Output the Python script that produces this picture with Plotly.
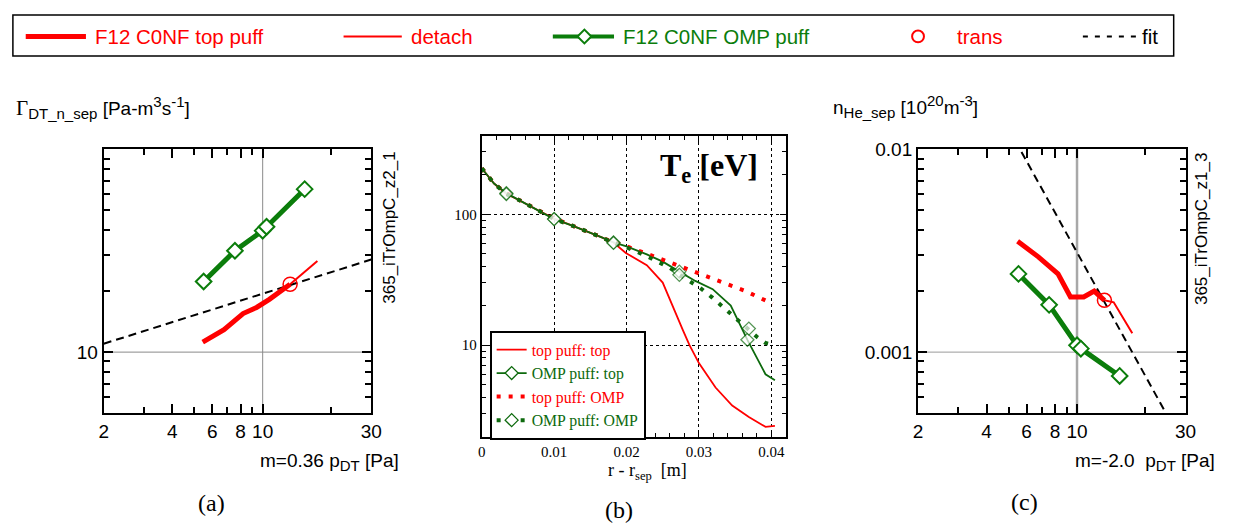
import numpy as np
import plotly.graph_objects as go

W, H = 1237, 525

# ---------------- data: panel (a)  Gamma_DT_n_sep vs p_DT ----------------
a_top_x = [5.45, 6.76, 8.2, 9.4, 10.7, 11.9, 13.2]
a_top_y = [11.2, 12.9, 15.5, 16.6, 18.2, 19.9, 21.6]
a_det_x = [13.2, 14.5, 17.4]
a_det_y = [21.6, 23.6, 28.1]
a_omp_x = [5.5, 7.55, 10.0, 10.4, 15.3]
a_omp_y = [22.3, 31.6, 39.7, 41.5, 63.6]
a_trans_x = [13.2]
a_trans_y = [21.6]
a_fit_x = [2.0, 30.0]
a_fit_y = [11.0, 28.6]

# ---------------- data: panel (c)  n_He_sep vs p_DT ----------------
c_top_x = [5.48, 6.76, 8.25, 9.36, 10.7, 11.9, 13.2]
c_top_y = [0.00352, 0.00295, 0.00243, 0.00187, 0.00187, 0.0020, 0.0018]
c_det_x = [13.2, 14.5, 17.5]
c_det_y = [0.0018, 0.00176, 0.00124]
c_omp_x = [5.53, 7.54, 10.0, 10.4, 15.4]
c_omp_y = [0.00243, 0.00171, 0.00108, 0.00104, 0.000763]
c_trans_x = [13.2]
c_trans_y = [0.0018]
c_fit_x = [5.7, 24.6]
c_fit_y = [0.0097, 0.0005]

# ---------------- data: panel (b)  Te profiles ----------------
b_tt_x = [0, 0.0017, 0.0034, 0.005, 0.0073, 0.01, 0.0125, 0.0141, 0.0165, 0.0182,
          0.0199, 0.0228, 0.025, 0.0278, 0.0287, 0.03, 0.0323, 0.0346, 0.0369, 0.0392, 0.0405]
b_tt_y = [225, 172, 143, 130, 111, 93, 82, 76, 67, 61,
          50.7, 40.9, 30.1, 13.0, 10.0, 7.3, 4.75, 3.46, 2.83, 2.38, 2.42]

b_ot_x = [0, 0.0017, 0.0034, 0.005, 0.0073, 0.01, 0.0125, 0.0141, 0.0165, 0.0182,
          0.02, 0.0228, 0.025, 0.0273, 0.0295, 0.0319, 0.0344, 0.0367, 0.0392, 0.0405]
b_ot_y = [225, 172, 145, 130, 111, 92, 82, 76, 67, 61,
          57, 49.5, 43.5, 36.5, 31, 26.8, 20.1, 11.0, 6.0, 5.4]
b_ot_mark_x = [0.0034, 0.01, 0.0182, 0.0273, 0.0367]

b_to_x = [0, 0.0017, 0.0034, 0.005, 0.0073, 0.01, 0.0125, 0.0141, 0.0165, 0.0182,
          0.02, 0.0228, 0.025, 0.0264, 0.0292, 0.0328, 0.0364, 0.0402]
b_to_y = [225, 172, 145, 130, 111, 93, 82, 76, 67, 61,
          57, 50, 45, 42, 37.2, 31, 26, 20.7]

b_oo_x = [0, 0.0017, 0.0034, 0.005, 0.0073, 0.01, 0.0125, 0.0141, 0.0165, 0.0182,
          0.02, 0.0228, 0.026, 0.0273, 0.0301, 0.0319, 0.0344, 0.0369, 0.038, 0.0392, 0.0405]
b_oo_y = [225, 172, 143, 130, 111, 92, 82, 76, 67, 60.5,
          56, 48, 39, 34.5, 27.6, 23, 17.4, 13.4, 11.6, 10.4, 10.0]
b_oo_mark_x = [0.0034, 0.01, 0.0182, 0.0273, 0.0369]

# tick labels
p_ticks = [2, 4, 6, 8, 10, 30]
p_minor = [3, 5, 7, 9, 20]
b_xticks = [0, 0.01, 0.02, 0.03, 0.04]
b_xlabels = ['0', '0.01', '0.02', '0.03', '0.04']
b_yticks = [10, 100]

RED = '#ff0000'
GREEN = '#0b7d0b'
GREEN_B = '#0d6a0d'
SANS = 'Liberation Sans'
SERIF = 'Liberation Serif'


def px(x):
    return x / W


def py(y):
    return 1 - y / H


fig = go.Figure()


def add_pdt_panel(xa, ya, top_x, top_y, det_x, det_y, omp_x, omp_y, tr_x, tr_y, fx, fy):
    fig.add_trace(go.Scatter(x=fx, y=fy, mode='lines', xaxis=xa, yaxis=ya, showlegend=False,
                             line=dict(color='black', width=2, dash='8px,5px')))
    fig.add_trace(go.Scatter(x=top_x, y=top_y, mode='lines', xaxis=xa, yaxis=ya, showlegend=False,
                             line=dict(color=RED, width=5)))
    fig.add_trace(go.Scatter(x=det_x, y=det_y, mode='lines', xaxis=xa, yaxis=ya, showlegend=False,
                             line=dict(color=RED, width=2)))
    fig.add_trace(go.Scatter(x=omp_x, y=omp_y, mode='lines+markers', xaxis=xa, yaxis=ya,
                             showlegend=False, line=dict(color=GREEN, width=5),
                             marker=dict(symbol='diamond', size=12, color='white',
                                         line=dict(color=GREEN, width=2))))
    fig.add_trace(go.Scatter(x=tr_x, y=tr_y, mode='markers', xaxis=xa, yaxis=ya, showlegend=False,
                             marker=dict(symbol='circle-open', size=14, color=RED,
                                         line=dict(color=RED, width=1.5))))


add_pdt_panel('x', 'y', a_top_x, a_top_y, a_det_x, a_det_y, a_omp_x, a_omp_y,
              a_trans_x, a_trans_y, a_fit_x, a_fit_y)
add_pdt_panel('x3', 'y3', c_top_x, c_top_y, c_det_x, c_det_y, c_omp_x, c_omp_y,
              c_trans_x, c_trans_y, c_fit_x, c_fit_y)


def marker_sizes(xs, marks, size):
    return [size if any(abs(v - m) < 1e-9 for m in marks) else 0 for v in xs]


DOTS = '4px,8px'
green_marker = dict(symbol='diamond', color='white', line=dict(color=GREEN_B, width=1.3))

# panel (b) curves
fig.add_trace(go.Scatter(x=b_tt_x, y=b_tt_y, mode='lines', xaxis='x2', yaxis='y2',
                         name='<span style="color:#ff0000">top puff: top</span>',
                         line=dict(color=RED, width=1.8)))
fig.add_trace(go.Scatter(x=b_ot_x, y=b_ot_y, mode='lines+markers', xaxis='x2', yaxis='y2',
                         showlegend=False, line=dict(color=GREEN_B, width=1.8),
                         marker=dict(green_marker, size=marker_sizes(b_ot_x, b_ot_mark_x, 10))))
# legend entry for the curve above (no data of its own)
fig.add_trace(go.Scatter(x=[None], y=[None], mode='lines+markers', xaxis='x2', yaxis='y2',
                         name='<span style="color:#0d6a0d">OMP puff: top</span>',
                         line=dict(color=GREEN_B, width=1.8),
                         marker=dict(green_marker, size=10)))
fig.add_trace(go.Scatter(x=b_to_x, y=b_to_y, mode='lines', xaxis='x2', yaxis='y2',
                         name='<span style="color:#ff0000">top puff: OMP</span>',
                         line=dict(color=RED, width=4, dash=DOTS)))
fig.add_trace(go.Scatter(x=b_oo_x, y=b_oo_y, mode='lines+markers', xaxis='x2', yaxis='y2',
                         showlegend=False, line=dict(color=GREEN_B, width=4, dash=DOTS),
                         marker=dict(green_marker, size=marker_sizes(b_oo_x, b_oo_mark_x, 10))))
fig.add_trace(go.Scatter(x=[None], y=[None], mode='lines+markers', xaxis='x2', yaxis='y2',
                         name='<span style="color:#0d6a0d">OMP puff: OMP</span>',
                         line=dict(color=GREEN_B, width=4, dash=DOTS),
                         marker=dict(green_marker, size=10)))

# ---------------- axes ----------------
frame = dict(showline=True, linecolor='black', linewidth=2, mirror='allticks',
             ticks='inside', tickcolor='black', zeroline=False)
TICKF = dict(family=SANS, size=19, color='black')


def log_x(domain, anchor):
    return dict(frame, type='log', range=[np.log10(2), np.log10(30)], domain=domain, anchor=anchor,
                tickvals=p_ticks, ticktext=[str(t) for t in p_ticks], ticklen=9, tickwidth=1.5,
                tickfont=TICKF, showgrid=False,
                minor=dict(tickvals=p_minor, ticks='inside', ticklen=6, tickwidth=1.5,
                           tickcolor='black', showgrid=False))


a_minor_y = [5, 6, 7, 8, 9, 20, 30, 40, 50, 60, 70, 80, 90]
c_minor_y = [0.0005, 0.0006, 0.0007, 0.0008, 0.0009, 0.002, 0.003, 0.004, 0.005,
             0.006, 0.007, 0.008, 0.009]
b_minor_y = [2, 3, 4, 5, 6, 7, 8, 9, 20, 30, 40, 50, 60, 70, 80, 90, 200, 300, 400]

fig.update_layout(
    width=W, height=H, margin=dict(l=0, r=0, t=0, b=0),
    paper_bgcolor='white', plot_bgcolor='white',
    xaxis=log_x([px(100), px(371)], 'y'),
    yaxis=dict(frame, type='log', range=[np.log10(5), 2], domain=[py(411), py(142)], anchor='x',
               tickvals=[10], ticktext=['10'], ticklen=9, tickwidth=1.5,
               tickfont=TICKF, showgrid=False,
               minor=dict(tickvals=a_minor_y, ticks='inside', ticklen=6, tickwidth=1.5,
                          tickcolor='black', showgrid=False)),
    xaxis3=log_x([px(925), px(1196)], 'y3'),
    yaxis3=dict(frame, type='log', range=[np.log10(0.0005), -2], domain=[py(411), py(142)],
                anchor='x3', tickvals=[0.001, 0.01], ticktext=['0.001', '0.01'], ticklen=9,
                tickwidth=1.5, tickfont=TICKF, showgrid=False,
                minor=dict(tickvals=c_minor_y, ticks='inside', ticklen=6, tickwidth=1.5,
                           tickcolor='black', showgrid=False)),
    xaxis2=dict(frame, range=[0, 0.042], domain=[px(483), px(791)], anchor='y2',
                tickvals=b_xticks, ticktext=b_xlabels,
                ticklen=6, tickwidth=1, tickfont=dict(family=SERIF, size=15, color='black'),
                showgrid=True, gridcolor='black', griddash='dot', gridwidth=1,
                minor=dict(dtick=0.002, ticks='inside', ticklen=4, tickwidth=1,
                           tickcolor='black', showgrid=False)),
    yaxis2=dict(frame, type='log', range=[np.log10(2), np.log10(400)], domain=[py(435), py(128)],
                anchor='x2', tickvals=b_yticks, ticktext=['10', '100'], ticklen=6, tickwidth=1,
                tickfont=dict(family=SERIF, size=15, color='black'),
                showgrid=True, gridcolor='black', griddash='dot', gridwidth=1,
                minor=dict(tickvals=b_minor_y, ticks='inside', ticklen=4, tickwidth=1,
                           tickcolor='black', showgrid=False)),
    legend=dict(x=px(491), y=py(327), xanchor='left', yanchor='top', bgcolor='white',
                bordercolor='black', borderwidth=2, tracegroupgap=0,
                font=dict(family=SERIF, size=15.8), itemwidth=30),
    showlegend=True,
)

# ---------------- reference lines (grid at single values) ----------------
shapes = [
    dict(type='line', xref='x', yref='y domain', x0=10, x1=10, y0=0, y1=1, layer='below',
         line=dict(color='#8a8a8a', width=1)),
    dict(type='line', xref='x domain', yref='y', x0=0, x1=1, y0=10, y1=10, layer='below',
         line=dict(color='#8a8a8a', width=1)),
    dict(type='line', xref='x3', yref='y3 domain', x0=10, x1=10, y0=0, y1=1, layer='below',
         line=dict(color='#a8a8a8', width=2.5)),
    dict(type='line', xref='x3 domain', yref='y3', x0=0, x1=1, y0=0.001, y1=0.001, layer='below',
         line=dict(color='#9a9a9a', width=1)),
]

# ---------------- top legend (manual) ----------------
ly = 27
shapes += [
    dict(type='rect', xref='paper', yref='paper', x0=px(8), x1=px(1184), y0=py(47), y1=py(5),
         line=dict(color='black', width=1.5)),
    dict(type='line', xref='paper', yref='paper', x0=px(21), x1=px(82), y0=py(ly), y1=py(ly),
         line=dict(color=RED, width=5)),
    dict(type='line', xref='paper', yref='paper', x0=px(343), x1=px(402), y0=py(ly), y1=py(ly),
         line=dict(color=RED, width=2)),
    dict(type='line', xref='paper', yref='paper', x0=px(555), x1=px(617), y0=py(ly), y1=py(ly),
         line=dict(color=GREEN, width=4)),
    dict(type='path', xref='paper', yref='paper',
         path=f'M{px(580)},{py(ly)} L{px(587)},{py(ly-7)} L{px(594)},{py(ly)} L{px(587)},{py(ly+7)} Z',
         fillcolor='white', line=dict(color=GREEN, width=2)),
    dict(type='circle', xref='paper', yref='paper', x0=px(919), x1=px(931), y0=py(ly+6),
         y1=py(ly-6), line=dict(color=RED, width=2)),
    dict(type='line', xref='paper', yref='paper', x0=px(1092), x1=px(1148), y0=py(ly), y1=py(ly),
         line=dict(color='black', width=2, dash='5px,7px')),
]
fig.update_layout(shapes=shapes)


def ann(text, x, y, size, family=SANS, color='black', xanchor='center', yanchor='middle',
        angle=0):
    return dict(text=text, x=px(x), y=py(y), xref='paper', yref='paper', showarrow=False,
                xanchor=xanchor, yanchor=yanchor, textangle=angle,
                font=dict(family=family, size=size, color=color))


def s15(t):
    return f'<span style="font-size:15px">{t}</span>'


LEG = 20.5
annotations = [
    ann('F12 C0NF top puff', 89, ly, LEG, color=RED, xanchor='left'),
    ann('detach', 409, ly, LEG, color=RED, xanchor='left'),
    ann('F12 C0NF OMP puff', 624, ly, LEG, color=GREEN, xanchor='left'),
    ann('trans', 962, ly, LEG, color=RED, xanchor='left'),
    ann('fit', 1150, ly, LEG, xanchor='left'),
    # panel (a)
    ann('<span style="font-family:Liberation Serif;font-size:21px">Γ</span><sub>' + s15('DT_n_sep')
        + '</sub> [Pa-m<sup>' + s15('3') + '</sup>s<sup>' + s15('-1') + '</sup>]',
        9, 99, 19, xanchor='left'),
    ann('m=0.36 p<sub>' + s15('DT') + '</sub> [Pa]', 401, 461, 19, xanchor='right'),
    ann('365_iTrOmpC_z2_1', 390, 222, 17, angle=-90),
    ann('(a)', 209, 503, 24, family=SERIF),
    # panel (b)
    ann('<b>T<sub>e</sub> [eV]</b>', 765, 161, 32, family=SERIF, xanchor='right'),
    ann('r - r<sub>sep</sub>&nbsp; [m]', 651, 470, 18, family=SERIF),
    ann('(b)', 622, 510, 24, family=SERIF),
    # panel (c)
    ann('n<sub>' + s15('He_sep') + '</sub> [10<sup>' + s15('20') + '</sup>m<sup>' + s15('-3')
        + '</sup>]', 837, 98, 19, xanchor='left'),
    ann('m=-2.0&nbsp; p<sub>' + s15('DT') + '</sub> [Pa]', 1228, 461, 19, xanchor='right'),
    ann('365_iTrOmpC_z1_3', 1212, 223, 17, angle=-90),
    ann('(c)', 1033, 502, 24, family=SERIF),
]
fig.update_layout(annotations=annotations)

fig.write_html('out.html')
